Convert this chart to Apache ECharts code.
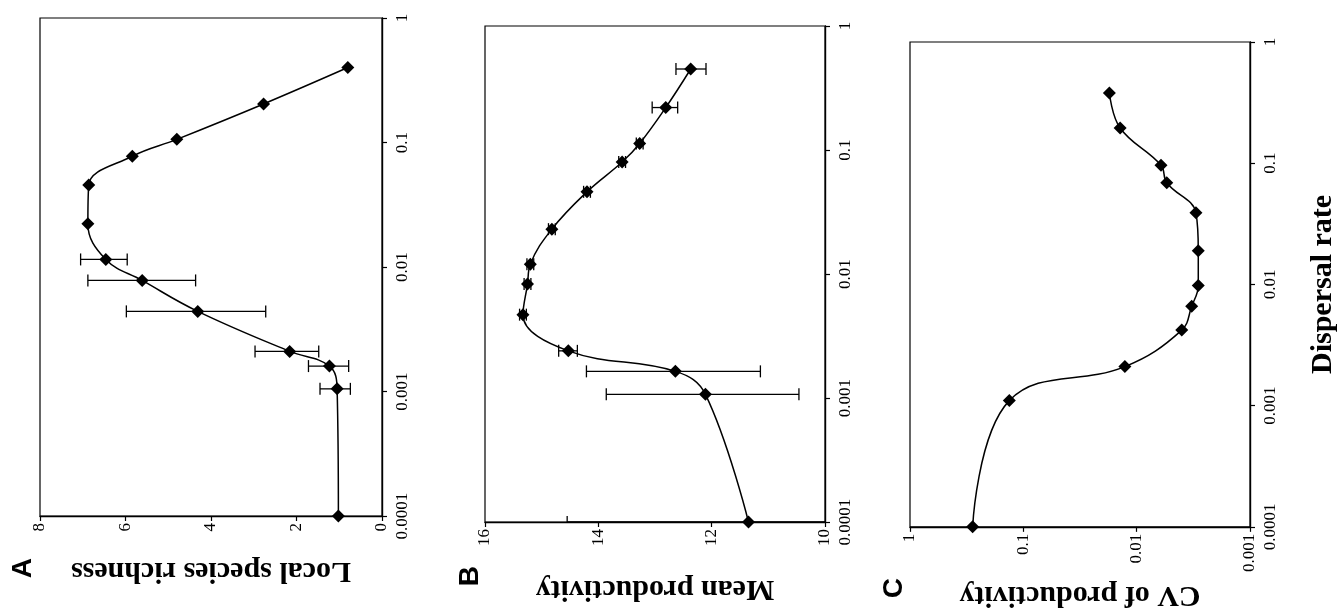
<!DOCTYPE html>
<html>
<head>
<meta charset="utf-8">
<script src="https://cdn.jsdelivr.net/npm/echarts@6/dist/echarts.min.js"></script>
<style>
html,body{margin:0;padding:0;background:#fff;}
#chart{width:1340px;height:615px;}
</style>
</head>
<body>
<div id="chart"></div>
<script>
// ---------- Data ----------
// Panel A: local species richness vs dispersal rate
const dispersalA = [0.0001, 0.00105, 0.0016, 0.0021, 0.0044, 0.0078, 0.0115, 0.0223, 0.0455, 0.0776, 0.106, 0.204, 0.40];
const richnessA  = [1.02, 1.05, 1.23, 2.16, 4.31, 5.61, 6.46, 6.88, 6.86, 5.84, 4.80, 2.77, 0.80];
const errDispA   = [0.00105, 0.0016, 0.0021, 0.0044, 0.0078, 0.0115];
const errLowA    = [0.74, 0.78, 1.48, 2.72, 4.36, 5.96];
const errHighA   = [1.45, 1.72, 2.97, 5.98, 6.88, 7.05];

// Panel B: mean productivity vs dispersal rate
const dispersalB    = [0.0001, 0.00107, 0.00164, 0.0024, 0.0047, 0.0083, 0.012, 0.023, 0.046, 0.080, 0.113, 0.22, 0.45];
const productivityB = [11.35, 12.11, 12.64, 14.53, 15.33, 15.25, 15.20, 14.82, 14.20, 13.58, 13.27, 12.81, 12.37];
const errLowB       = [8.15, 10.46, 11.14, 14.37, 15.27, 15.19, 15.14, 14.76, 14.14, 13.52, 13.21, 12.60, 12.10];
const errHighB      = [14.55, 13.86, 14.21, 14.70, 15.39, 15.31, 15.26, 14.88, 14.26, 13.64, 13.33, 13.05, 12.63];

// Panel C: CV of productivity vs dispersal rate
const dispersalC = [0.0001, 0.0011, 0.0021, 0.0042, 0.0066, 0.0098, 0.019, 0.039, 0.069, 0.096, 0.195, 0.38];
const cvC        = [0.28, 0.133, 0.0127, 0.0040, 0.00327, 0.00286, 0.00286, 0.0030, 0.00543, 0.0061, 0.014, 0.0174];

// Tick labels
const dispersalTicks = ['0.0001', '0.001', '0.01', '0.1', '1'];
const cvTicks = ['0.001', '0.01', '0.1', '1'];

// Titles
const titleA = 'Local species richness';
const titleB = 'Mean productivity';
const titleC = 'CV of productivity';
const titleX = 'Dispersal rate';
const panelLetters = ['A', 'B', 'C'];

// ---------- Chart ----------
const SERIF = 'Liberation Serif';
function logFormatter(labels) {
  return function (v) {
    const s = labels.find(l => Math.abs(Math.log10(+l) - Math.log10(v)) < 1e-6);
    return s === undefined ? '' : s;
  };
}
const axisLineStyle = { show: true, onZero: false, lineStyle: { color: '#000', width: 1.4 } };
const axisTickStyle = { show: true, length: 5, lineStyle: { color: '#000', width: 1.2 } };
const tickLabel = { color: '#000', fontFamily: SERIF, fontSize: 17 };
const nameStyle = { color: '#000', fontFamily: SERIF, fontSize: 30, fontWeight: 'bold' };

function valueXAxis(grid, min, max, interval, name, gap) {
  return {
    gridIndex: grid, type: 'value', min: min, max: max, interval: interval, inverse: true,
    position: 'bottom', axisLine: axisLineStyle, axisTick: axisTickStyle, splitLine: { show: false },
    axisLabel: Object.assign({ rotate: 90, margin: 7 }, tickLabel),
    name: name, nameLocation: 'middle', nameRotate: 180, nameGap: gap, nameTextStyle: nameStyle
  };
}
function dispYAxis(grid, extra) {
  return Object.assign({
    gridIndex: grid, type: 'log', logBase: 10, min: 0.0001, max: 1, position: 'right',
    axisLine: axisLineStyle, axisTick: axisTickStyle, splitLine: { show: false },
    minorTick: { show: false },
    axisLabel: Object.assign({ rotate: 90, margin: 12, formatter: logFormatter(dispersalTicks) }, tickLabel)
  }, extra || {});
}
function pairs(xs, ys) { return xs.map((x, i) => [ys[i], x]); }
function errData(xs, lo, hi) { return xs.map((x, i) => [x, lo[i], hi[i]]); }

function errorSeries(xi, yi, data) {
  return {
    type: 'custom', xAxisIndex: xi, yAxisIndex: yi, clip: true, z: 3,
    data: data,
    encode: { x: [1, 2], y: 0 },
    renderItem: function (params, api) {
      const d = api.value(0), lo = api.value(1), hi = api.value(2);
      const p1 = api.coord([lo, d]);
      const p2 = api.coord([hi, d]);
      const cap = 6;
      const style = { stroke: '#000', lineWidth: 1.3 };
      return {
        type: 'group',
        children: [
          { type: 'line', shape: { x1: p1[0], y1: p1[1], x2: p2[0], y2: p2[1] }, style: style },
          { type: 'line', shape: { x1: p1[0], y1: p1[1] - cap, x2: p1[0], y2: p1[1] + cap }, style: style },
          { type: 'line', shape: { x1: p2[0], y1: p2[1] - cap, x2: p2[0], y2: p2[1] + cap }, style: style }
        ]
      };
    }
  };
}
function lineSeries(xi, yi, data) {
  return {
    type: 'line', xAxisIndex: xi, yAxisIndex: yi, data: data, smooth: 0.4,
    symbol: 'diamond', symbolSize: 13, showSymbol: true, clip: false, z: 4,
    lineStyle: { color: '#000', width: 1.5 }, itemStyle: { color: '#000' }
  };
}

const chart = echarts.init(document.getElementById('chart'), null, { renderer: 'canvas' });
const gridBase = { show: true, borderColor: '#000', borderWidth: 1.2, backgroundColor: 'transparent', containLabel: false };
chart.setOption({
  animation: false,
  backgroundColor: '#fff',
  grid: [
    Object.assign({ left: 40, top: 18, width: 342, height: 498 }, gridBase),
    Object.assign({ left: 485, top: 26, width: 340, height: 496 }, gridBase),
    Object.assign({ left: 910, top: 42, width: 340, height: 496 }, gridBase)
  ],
  xAxis: [
    valueXAxis(0, 0, 8, 2, titleA, 40),
    valueXAxis(1, 10, 16, 2, titleB, 52),
    {
      gridIndex: 2, type: 'log', logBase: 10, min: 0.001, max: 1, inverse: true, position: 'bottom',
      axisLine: axisLineStyle, axisTick: axisTickStyle, splitLine: { show: false }, minorTick: { show: false },
      axisLabel: Object.assign({ rotate: 90, margin: 7, formatter: logFormatter(cvTicks) }, tickLabel),
      name: titleC, nameLocation: 'middle', nameRotate: 180, nameGap: 47, nameTextStyle: nameStyle
    }
  ],
  yAxis: [
    dispYAxis(0),
    dispYAxis(1),
    dispYAxis(2, { name: titleX, nameLocation: 'middle', nameRotate: 90, nameGap: 58, nameTextStyle: nameStyle })
  ],
  graphic: [
    { type: 'text', left: 9, top: 558, rotation: Math.PI / 2, style: { text: panelLetters[0], font: 'bold 28px "Liberation Sans"', fill: '#000' } },
    { type: 'text', left: 456, top: 566, rotation: Math.PI / 2, style: { text: panelLetters[1], font: 'bold 28px "Liberation Sans"', fill: '#000' } },
    { type: 'text', left: 880, top: 578, rotation: Math.PI / 2, style: { text: panelLetters[2], font: 'bold 28px "Liberation Sans"', fill: '#000' } }
  ],
  series: [
    errorSeries(0, 0, errData(errDispA, errLowA, errHighA)),
    lineSeries(0, 0, pairs(dispersalA, richnessA)),
    errorSeries(1, 1, errData(dispersalB, errLowB, errHighB)),
    lineSeries(1, 1, pairs(dispersalB, productivityB)),
    lineSeries(2, 2, pairs(dispersalC, cvC))
  ]
});
</script>
</body>
</html>
